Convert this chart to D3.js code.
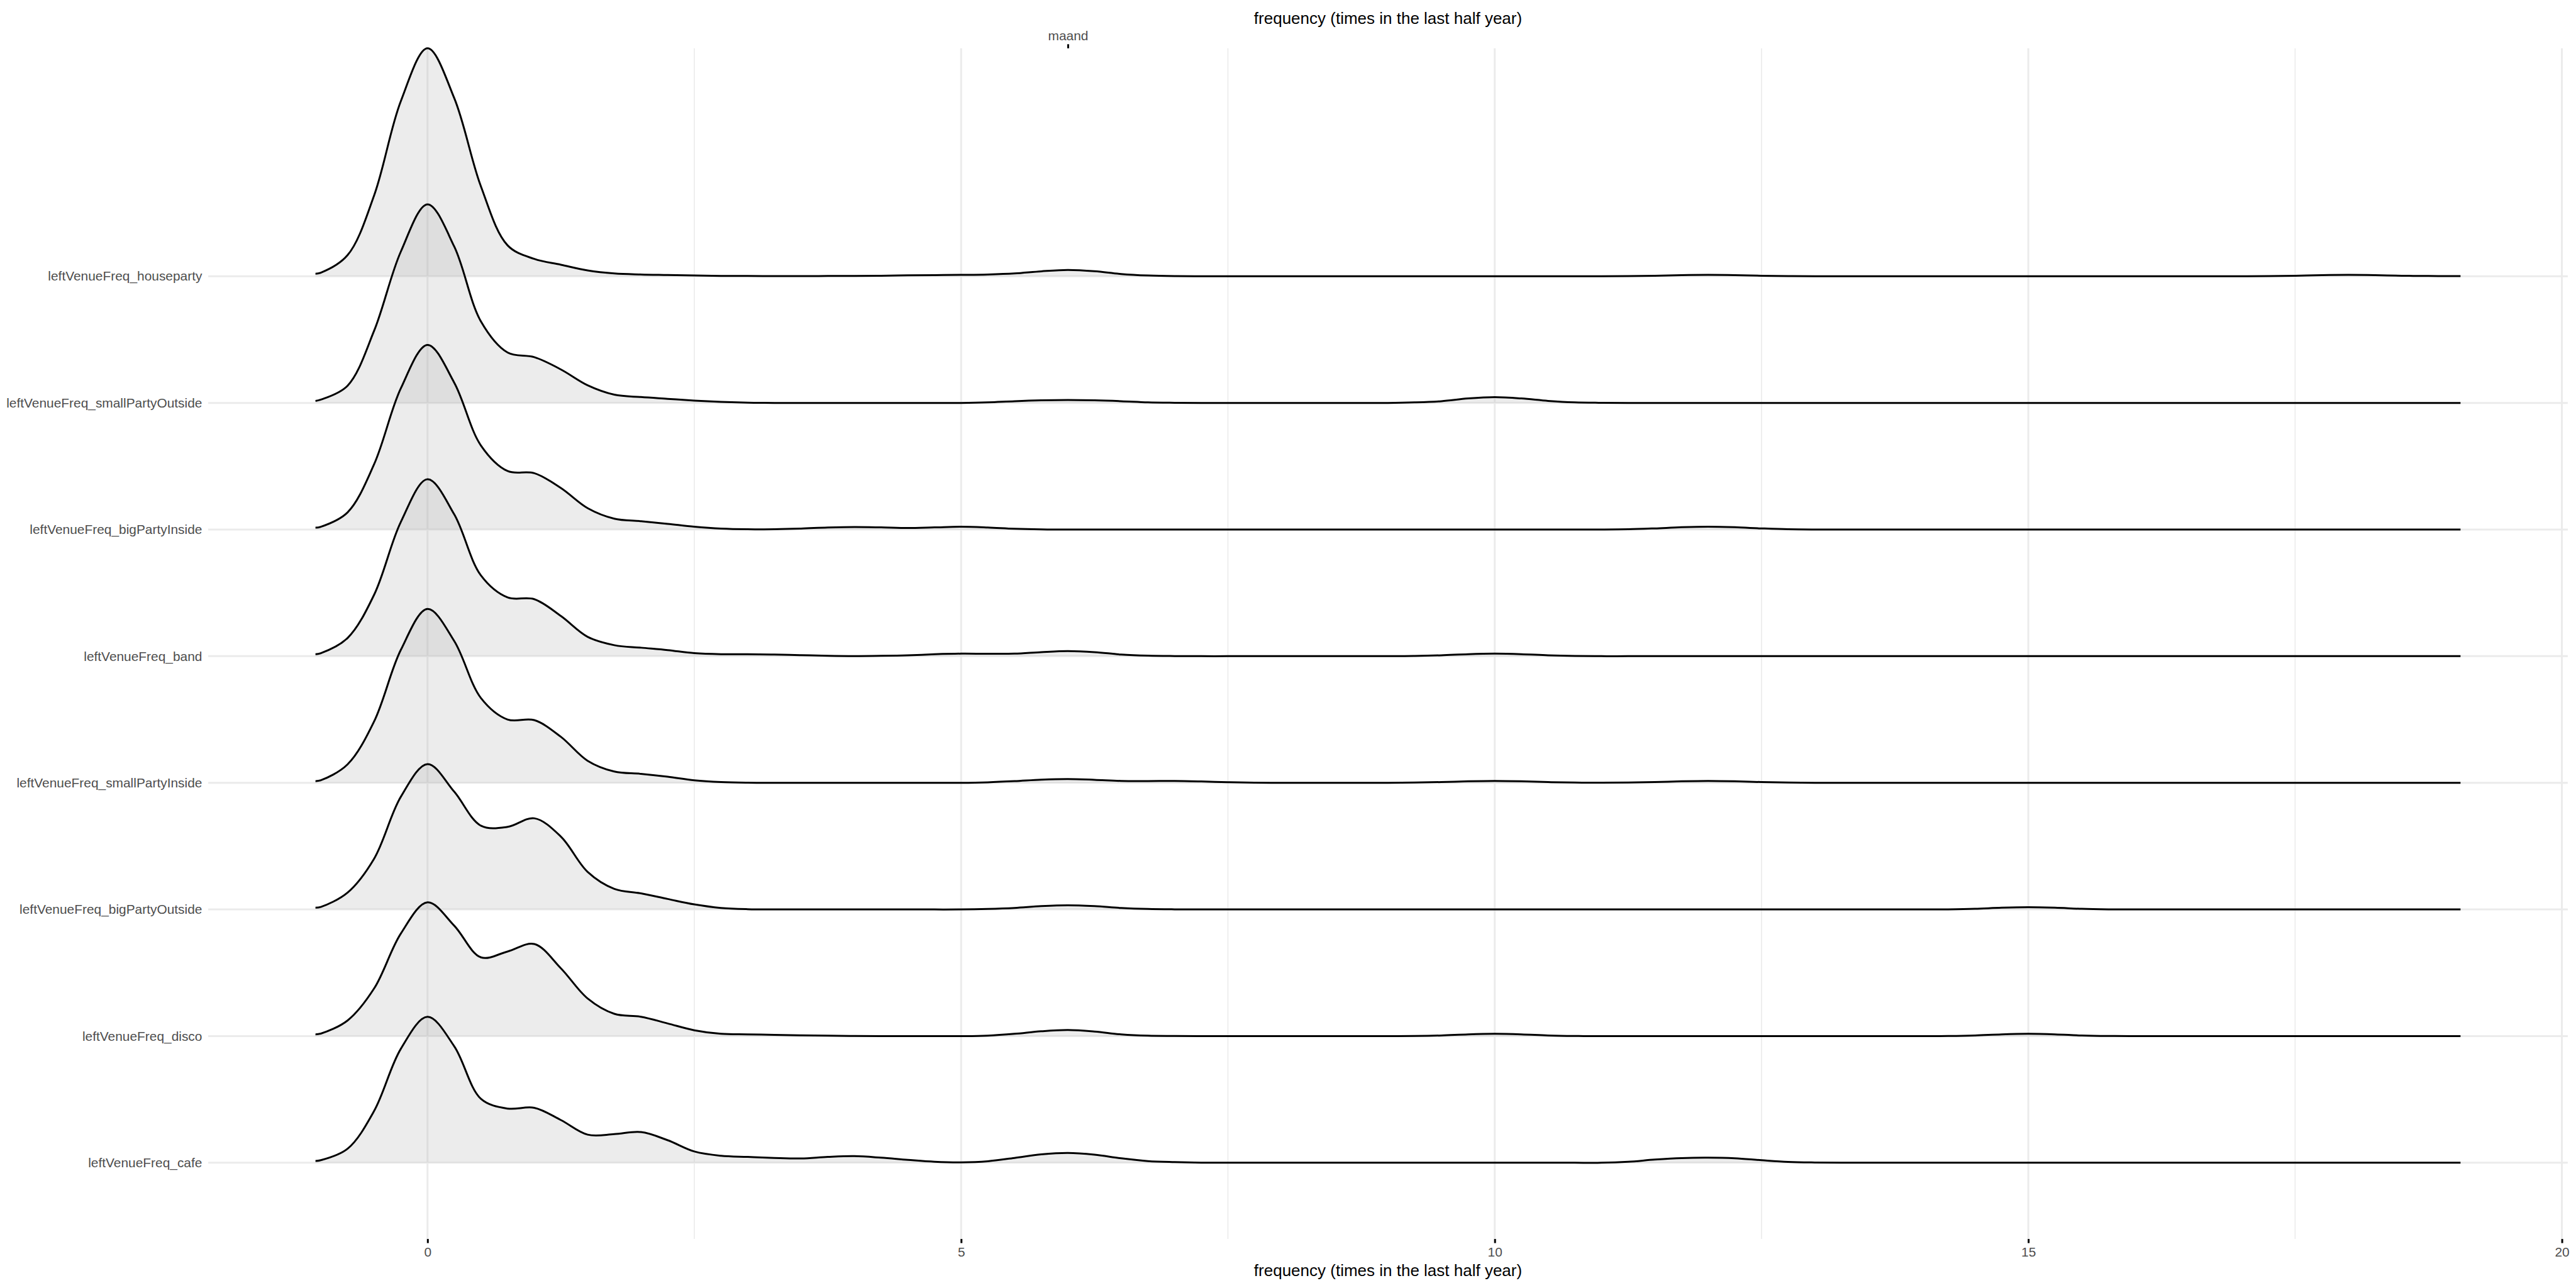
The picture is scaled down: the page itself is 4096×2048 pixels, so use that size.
<!DOCTYPE html>
<html><head><meta charset="utf-8">
<script src="https://cdn.jsdelivr.net/npm/d3@7"></script>
<style>html,body{margin:0;padding:0;background:#fff;} svg{display:block;}</style>
</head><body>
<svg id="chart" width="4096" height="2048"></svg>
<script>
// ---- data ----
// categories listed bottom to top (position 1 = bottom)
const categories = [
  "leftVenueFreq_cafe",
  "leftVenueFreq_disco",
  "leftVenueFreq_bigPartyOutside",
  "leftVenueFreq_smallPartyInside",
  "leftVenueFreq_band",
  "leftVenueFreq_bigPartyInside",
  "leftVenueFreq_smallPartyOutside",
  "leftVenueFreq_houseparty"
];
// sample positions of the density curves (frequency)
const xGrid = [-1.05,
  -1, -0.75, -0.5, -0.25,
  0, 0.25, 0.5, 0.75,   1, 1.25, 1.5, 1.75,   2, 2.25, 2.5, 2.75,   3, 3.25, 3.5, 3.75,
  4, 4.25, 4.5, 4.75,   5, 5.25, 5.5, 5.75,   6, 6.25, 6.5, 6.75,   7, 7.25, 7.5, 7.75,
  8, 8.25, 8.5, 8.75,   9, 9.25, 9.5, 9.75,   10, 10.25, 10.5, 10.75,   11, 11.25, 11.5, 11.75,
  12, 12.25, 12.5, 12.75,   13, 13.25, 13.5, 13.75,   14, 14.25, 14.5, 14.75,   15, 15.25, 15.5, 15.75,
  16, 16.25, 16.5, 16.75,   17, 17.25, 17.5, 17.75,   18, 18.25, 18.5, 18.75,
  19, 19.05];
// ridge heights (in units of the spacing between ridges)
const houseparty = [0.02,
  0.028, 0.166, 0.64, 1.383,
  1.80, 1.407, 0.71, 0.244,   0.137, 0.091, 0.046, 0.022,   0.014, 0.010, 0.006, 0.003,   0.002, 0.001, 0.001, 0.002,
  0.003, 0.004, 0.007, 0.009,   0.011, 0.014, 0.022, 0.039,   0.050, 0.040, 0.018, 0.006,   0.001, 0, 0, 0,
  0, 0, 0, 0,   0, 0, 0, 0,   0, 0, 0, 0,   0, 0.001, 0.004, 0.009,
  0.011, 0.009, 0.004, 0.001,   0, 0, 0, 0,   0, 0, 0, 0,   0, 0, 0, 0,
  0, 0, 0, 0,   0, 0.001, 0.004, 0.009,   0.011, 0.009, 0.004, 0.002,
  0.001, 0.001];
const smallPartyOutside = [0.016,
  0.026, 0.135, 0.571, 1.195,
  1.568, 1.235, 0.644, 0.398,   0.361, 0.264, 0.139, 0.065,   0.046, 0.032, 0.018, 0.008,   0.002, 0, 0, 0,
  0, 0, 0, 0,   0, 0.004, 0.0135, 0.020,   0.0225, 0.020, 0.0135, 0.004,   0.001, 0, 0, 0,
  0, 0, 0, 0,   0, 0.004, 0.0135, 0.035,   0.045, 0.035, 0.016, 0.004,   0.001, 0, 0, 0,
  0, 0, 0, 0,   0, 0, 0, 0,   0, 0, 0, 0,   0, 0, 0, 0,
  0, 0, 0, 0,   0, 0, 0, 0,   0, 0, 0, 0,
  0, 0];
const bigPartyInside = [0.015,
  0.022, 0.135, 0.517, 1.115,
  1.458, 1.16, 0.664, 0.462,   0.445, 0.328, 0.169, 0.086,   0.066, 0.045, 0.022, 0.007,   0.002, 0.003, 0.008, 0.016,
  0.020, 0.017, 0.012, 0.017,   0.022, 0.016, 0.006, 0.001,   0, 0, 0, 0,   0, 0, 0, 0,
  0, 0, 0, 0,   0, 0, 0, 0,   0, 0, 0, 0,   0, 0.002, 0.009, 0.018,
  0.022, 0.018, 0.009, 0.002,   0, 0, 0, 0,   0, 0, 0, 0,   0, 0, 0, 0,
  0, 0, 0, 0,   0, 0, 0, 0,   0, 0, 0, 0,
  0, 0];
const band = [0.016,
  0.024, 0.143, 0.486, 1.06,
  1.397, 1.12, 0.638, 0.464,   0.45, 0.317, 0.153, 0.087,   0.067, 0.048, 0.024, 0.016,   0.016, 0.013, 0.008, 0.003,
  0.001, 0.003, 0.007, 0.015,   0.020, 0.019, 0.020, 0.032,   0.040, 0.032, 0.013, 0.004,   0.001, 0, 0, 0,
  0, 0, 0, 0,   0, 0.002, 0.007, 0.016,   0.020, 0.016, 0.007, 0.002,   0, 0, 0, 0,
  0, 0, 0, 0,   0, 0, 0, 0,   0, 0, 0, 0,   0, 0, 0, 0,
  0, 0, 0, 0,   0, 0, 0, 0,   0, 0, 0, 0,
  0, 0];
const smallPartyInside = [0.014,
  0.02, 0.145, 0.486, 1.05,
  1.373, 1.12, 0.67, 0.50,   0.495, 0.363, 0.174, 0.089,   0.071, 0.048, 0.020, 0.006,   0.001, 0, 0, 0,
  0, 0, 0, 0,   0, 0.004, 0.013, 0.025,   0.030, 0.024, 0.015, 0.014,   0.015, 0.011, 0.005, 0.001,
  0, 0, 0, 0,   0, 0.002, 0.006, 0.012,   0.015, 0.012, 0.006, 0.002,   0.001, 0.002, 0.006, 0.012,
  0.015, 0.012, 0.006, 0.002,   0, 0, 0, 0,   0, 0, 0, 0,   0, 0, 0, 0,
  0, 0, 0, 0,   0, 0, 0, 0,   0, 0, 0, 0,
  0, 0];
const bigPartyOutside = [0.014,
  0.02, 0.133, 0.402, 0.89,
  1.148, 0.93, 0.662, 0.652,   0.72, 0.575, 0.297, 0.163,   0.127, 0.083, 0.040, 0.012,   0.002, 0, 0, 0,
  0, 0, 0, 0,   0, 0.004, 0.012, 0.026,   0.033, 0.026, 0.012, 0.004,   0.001, 0, 0, 0,
  0, 0, 0, 0,   0, 0, 0, 0,   0, 0, 0, 0,   0, 0, 0, 0,
  0, 0, 0, 0,   0, 0, 0, 0,   0, 0.001, 0.005, 0.014,   0.018, 0.014, 0.005, 0.001,
  0, 0, 0, 0,   0, 0, 0, 0,   0, 0, 0, 0,
  0, 0];
const disco = [0.014,
  0.02, 0.123, 0.377, 0.81,
  1.056, 0.872, 0.622, 0.668,   0.727, 0.535, 0.297, 0.176,   0.153, 0.100, 0.046, 0.018,   0.014, 0.010, 0.006, 0.003,
  0.001, 0, 0, 0,   0, 0.004, 0.018, 0.038,   0.048, 0.036, 0.014, 0.003,   0.001, 0, 0, 0,
  0, 0, 0, 0,   0, 0.001, 0.005, 0.014,   0.018, 0.014, 0.005, 0.001,   0, 0, 0, 0,
  0, 0, 0, 0,   0, 0, 0, 0,   0, 0.001, 0.005, 0.014,   0.018, 0.014, 0.005, 0.001,
  0, 0, 0, 0,   0, 0, 0, 0,   0, 0, 0, 0,
  0, 0];
const cafe = [0.014,
  0.02, 0.11, 0.41, 0.90,
  1.152, 0.92, 0.505, 0.428,   0.434, 0.337, 0.222, 0.226,   0.242, 0.178, 0.089, 0.055,   0.046, 0.038, 0.034, 0.046,
  0.052, 0.040, 0.023, 0.008,   0.003, 0.012, 0.038, 0.066,   0.078, 0.064, 0.035, 0.013,   0.005, 0.001, 0, 0,
  0, 0, 0, 0,   0, 0, 0, 0,   0, 0, 0, 0,   0, 0.008, 0.025, 0.037,
  0.040, 0.035, 0.020, 0.007,   0.002, 0, 0, 0,   0, 0, 0, 0,   0, 0, 0, 0,
  0, 0, 0, 0,   0, 0, 0, 0,   0, 0, 0, 0,
  0, 0];
const seriesByCategory = [cafe, disco, bigPartyOutside, smallPartyInside, band, bigPartyInside, smallPartyOutside, houseparty];
const xTicks = [0, 5, 10, 15, 20];
const xMinorTicks = [2.5, 7.5, 12.5, 17.5];
const topTicks = [6];
const topTickLabels = ["maand"];
const axisTitle = "frequency (times in the last half year)";

// ---- layout (reference is 7200x3600; drawn at 4096/7200) ----
const S = 4096 / 7200;
const panel = {left: 582 * S, right: 7177 * S, top: 135 * S, bottom: 3463 * S};
const FONT = "'Liberation Sans', Arial, Helvetica, sans-serif";

const svg = d3.select("#chart");
svg.append("rect").attr("width", 4096).attr("height", 2048).attr("fill", "#fff");

const x = d3.scaleLinear().domain([-2.055, 20.055]).range([panel.left, panel.right]);
const y = d3.scaleLinear().domain([0.398, 9.8]).range([panel.bottom, panel.top]);
const positions = categories.map((c, i) => i + 1);

// grid
const grid = svg.append("g");
grid.selectAll("line.minor").data(xMinorTicks).join("line")
  .attr("x1", d => x(d)).attr("x2", d => x(d))
  .attr("y1", panel.top).attr("y2", panel.bottom)
  .attr("stroke", "#EBEBEB").attr("stroke-width", 1.6);
grid.selectAll("line.major").data(xTicks).join("line")
  .attr("x1", d => x(d)).attr("x2", d => x(d))
  .attr("y1", panel.top).attr("y2", panel.bottom)
  .attr("stroke", "#EBEBEB").attr("stroke-width", 3.0);
grid.selectAll("line.hmajor").data(positions).join("line")
  .attr("x1", panel.left).attr("x2", panel.right)
  .attr("y1", d => y(d)).attr("y2", d => y(d))
  .attr("stroke", "#EBEBEB").attr("stroke-width", 3.0);

// ridges: draw from top to bottom so lower ridges are in front
const ridges = svg.append("g");
const curve = d3.curveCatmullRom.alpha(0.5);
for (let i = categories.length - 1; i >= 0; i--) {
  const pos = positions[i];
  const vals = seriesByCategory[i];
  const pts = xGrid.map((xv, k) => [xv, vals[k]]);
  const area = d3.area()
    .x(d => x(d[0])).y0(y(pos)).y1(d => y(pos + d[1]))
    .curve(curve);
  const line = d3.line()
    .x(d => x(d[0])).y(d => y(pos + d[1]))
    .curve(curve);
  ridges.append("path").attr("d", area(pts))
    .attr("fill", "#B3B3B3").attr("fill-opacity", 0.25).attr("stroke", "none");
  ridges.append("path").attr("d", line(pts))
    .attr("fill", "none").attr("stroke", "#000").attr("stroke-width", 3.0)
    .attr("stroke-linejoin", "round").attr("stroke-linecap", "butt");
}

// bottom axis
const xAxis = d3.axisBottom(x).tickValues(xTicks).tickFormat(d3.format("d"))
  .tickSize(6.5).tickPadding(6.7);
const gx = svg.append("g").attr("transform", `translate(0,${panel.bottom})`).call(xAxis);
gx.select(".domain").remove();
gx.selectAll(".tick line").attr("stroke", "#000").attr("stroke-width", 3.0);
gx.selectAll(".tick text").attr("fill", "#4D4D4D").style("font-family", FONT).style("font-size", "20.9px");

// top (secondary) axis
const xTop = d3.axisTop(x).tickValues(topTicks).tickFormat((d, i) => topTickLabels[i])
  .tickSize(6.5).tickPadding(6);
const gt = svg.append("g").attr("transform", `translate(0,${panel.top})`).call(xTop);
gt.select(".domain").remove();
gt.selectAll(".tick line").attr("stroke", "#000").attr("stroke-width", 3.0);
gt.selectAll(".tick text").attr("fill", "#4D4D4D").style("font-family", FONT).style("font-size", "20.9px");

// left axis (category labels)
const yAxis = d3.axisLeft(y).tickValues(positions).tickFormat(d => categories[d - 1])
  .tickSize(0).tickPadding(9.7);
const gy = svg.append("g").attr("transform", `translate(${panel.left},0)`).call(yAxis);
gy.select(".domain").remove();
gy.selectAll(".tick text").attr("fill", "#4D4D4D").style("font-family", FONT).style("font-size", "20.9px");

// axis titles
const cx = (panel.left + panel.right) / 2;
svg.append("text").attr("x", cx).attr("y", 66 * S).attr("text-anchor", "middle")
  .style("font-family", FONT).style("font-size", "26px").attr("fill", "#000").text(axisTitle);
svg.append("text").attr("x", cx).attr("y", 3566 * S).attr("text-anchor", "middle")
  .style("font-family", FONT).style("font-size", "26px").attr("fill", "#000").text(axisTitle);
</script>
</body></html>
